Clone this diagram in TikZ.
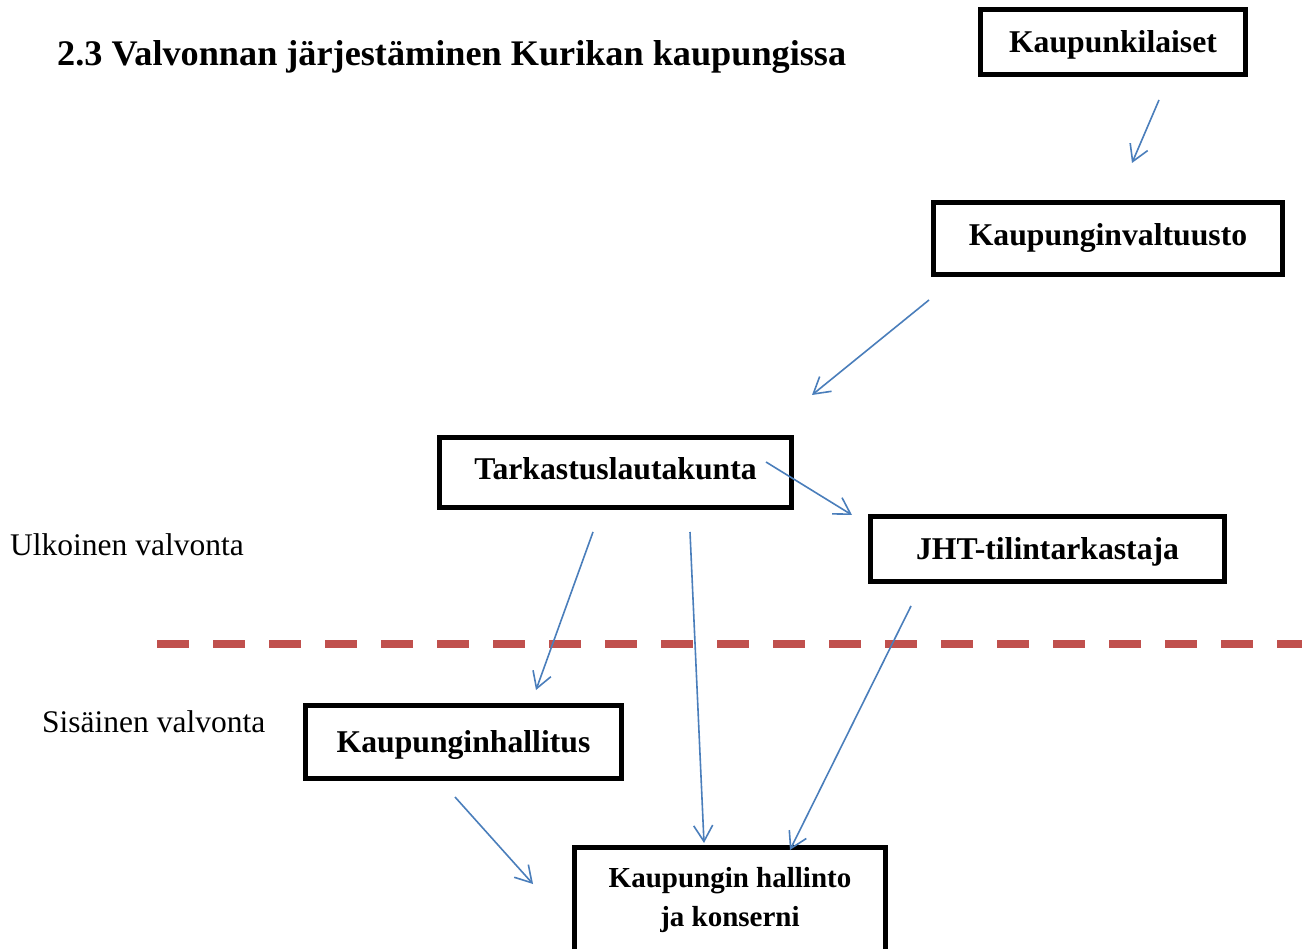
\documentclass[tikz,border=0pt]{standalone}
\usepackage{fontspec}
\setmainfont{Liberation Serif}
\usepackage{graphicx}
\usetikzlibrary{arrows.meta}
\definecolor{arrowblue}{HTML}{4A7EBB}
\definecolor{dashred}{HTML}{C0504D}
\tikzset{
  box/.style={draw, line width=5pt, inner sep=0pt, align=center,
    font=\fontsize{31.7}{38.7}\selectfont\bfseries, text height=22pt, text depth=7pt},
  lowtext/.style={text depth=1pt},
  conn/.style={draw=arrowblue, line width=1.6pt,
    -{Straight Barb[length=16pt,width=19pt]}},
  sidelabel/.style={anchor=base west, inner sep=0pt, font=\fontsize{31.5}{38}\selectfont},
  divider/.style={draw=dashred, line width=8pt, dash pattern=on 32pt off 24pt}
}
\begin{document}
\begin{tikzpicture}[x=1pt,y=-1pt]
\useasboundingbox[fill=white] (0,0) rectangle (1302,949);

% title
\node[anchor=base west, inner sep=0pt] (title) at (57,66)
  {\resizebox{789pt}{25pt}{\bfseries\fontsize{34}{40}\selectfont 2.3 Valvonnan järjestäminen Kurikan kaupungissa}};

% boxes
\node[box, lowtext, minimum width=265pt, minimum height=65pt] (kl) at (1113,42) {Kaupunkilaiset};
\node[box, minimum width=349pt, minimum height=72pt] (kv) at (1108,238.5) {Kaupunginvaltuusto};
\node[box, minimum width=352pt, minimum height=70pt] (tl) at (615.5,472.5) {Tarkastuslautakunta};
\node[box, lowtext, minimum width=354pt, minimum height=65pt] (jht) at (1047.5,549) {JHT-tilintarkastaja};
\node[box, text depth=2pt, minimum width=316pt, minimum height=73pt] (kh) at (463.5,742) {Kaupunginhallitus};
\node[box, text height=, text depth=, font=\fontsize{29}{39.5}\selectfont\bfseries,
      minimum width=311pt, minimum height=105pt] (hk) at (730,900) {Kaupungin hallinto\\ja konserni};

% side labels
\node[sidelabel] (ulk) at (10,555) {Ulkoinen valvonta};
\node[sidelabel] (sis) at (42,732) {Sisäinen valvonta};

% divider
\coordinate (dL) at (157,643.5);
\coordinate (dR) at (1310,643.5);
\path[divider] (dL) -- (dR);

% arrow end points
\coordinate (a1s) at (1159,100); \coordinate (a1e) at (1132,163);
\coordinate (a2s) at (929,300);  \coordinate (a2e) at (812,395);
\coordinate (a3s) at (766,462);  \coordinate (a3e) at (852,515);
\coordinate (a4s) at (593,532);  \coordinate (a4e) at (536,690);
\coordinate (a5s) at (690,532);  \coordinate (a5e) at (704,843);
\coordinate (a6s) at (911,606);  \coordinate (a6e) at (790,850);
\coordinate (a7s) at (455,797);  \coordinate (a7e) at (533,884);

\path[conn] (a1s) -- (a1e);
\path[conn] (a2s) -- (a2e);
\path[conn] (a3s) -- (a3e);
\path[conn] (a4s) -- (a4e);
\path[conn] (a5s) -- (a5e);
\path[conn] (a6s) -- (a6e);
\path[conn] (a7s) -- (a7e);
\end{tikzpicture}
\end{document}
